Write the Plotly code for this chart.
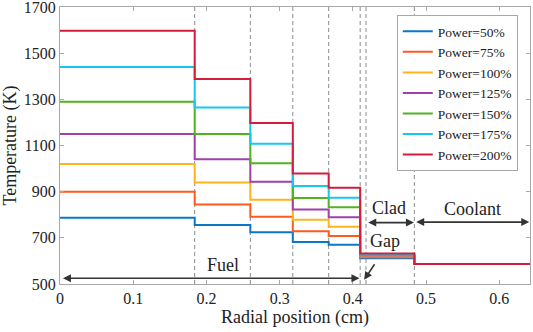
import plotly.graph_objects as go

# Region boundaries (cm): fuel rings, fuel/gap, gap/clad, clad/coolant
edges = [0, 0.184, 0.26, 0.318, 0.367, 0.41, 0.484, 0.642]
boundaries = [0.184, 0.26, 0.318, 0.367, 0.41, 0.418, 0.484]

labels = ["Power=50%", "Power=75%", "Power=100%", "Power=125%",
          "Power=150%", "Power=175%", "Power=200%"]
colors = ["#0A78C8", "#FF5A1E", "#FFB41E", "#A040A8", "#50B41E", "#14C8F0", "#D21E3C"]

# Temperatures (K) per region: 5 fuel rings, gap+clad, coolant
t50 = [787, 755, 724, 682, 670, 612, 587]
t75 = [900, 844, 791, 728, 708, 616, 587]
t100 = [1020, 940, 865, 778, 748, 620, 587]
t125 = [1150, 1040, 943, 823, 789, 623, 587]
t150 = [1290, 1150, 1023, 872, 832, 626, 587]
t175 = [1440, 1265, 1108, 924, 874, 629, 587]
t200 = [1597, 1388, 1198, 979, 917, 632, 587]
series = [t50, t75, t100, t125, t150, t175, t200]

x_ticks = [0, 0.1, 0.2, 0.3, 0.4, 0.5, 0.6]
x_tick_text = ["0", "0.1", "0.2", "0.3", "0.4", "0.5", "0.6"]
y_ticks = [500, 700, 900, 1100, 1300, 1500, 1700]

FONT = "Liberation Serif, DejaVu Serif, serif"
AX = "#A8A8A8"
TXT = "#222222"

fig = go.Figure()
for lab, col, vals in zip(labels, colors, series):
    fig.add_trace(go.Scatter(
        x=edges, y=vals + [vals[-1]], mode="lines", name=lab,
        line=dict(color=col, width=2, shape="hv"),
    ))

for b in boundaries:
    fig.add_shape(type="line", xref="x", yref="paper", x0=b, x1=b, y0=0, y1=1,
                  line=dict(color="#8C8C8C", width=1, dash="4px,3px"), layer="below")

arrow_col = "#333333"
def arrow(x0, y0, x1, y1, both=True):
    fig.add_annotation(x=x1, y=y1, ax=x0, ay=y0, xref="x", yref="y",
                       axref="x", ayref="y", text="", showarrow=True,
                       arrowhead=2, arrowsize=1, arrowwidth=1.6,
                       arrowcolor=arrow_col,
                       arrowside="end+start" if both else "end",
                       standoff=0, startstandoff=0)

arrow(0.002, 525, 0.409, 525)
arrow(0.431, 592, 0.4155, 518, both=False)
arrow(0.419, 766, 0.4835, 766)
arrow(0.4845, 768, 0.641, 768)

def label(x, y, t):
    fig.add_annotation(x=x, y=y, xref="x", yref="y", text=t, showarrow=False,
                       font=dict(family=FONT, size=18, color=TXT))

label(0.223, 583, "Fuel")
label(0.444, 687, "Gap")
label(0.450, 828, "Clad")
label(0.563, 823, "Coolant")

fig.update_layout(
    width=533, height=332,
    margin=dict(l=60, r=3, t=7, b=48, autoexpand=False),
    paper_bgcolor="white", plot_bgcolor="white",
    font=dict(family=FONT, size=16, color=TXT),
    showlegend=True,
    legend=dict(x=0.974, y=0.971, xanchor="right", yanchor="top",
                bgcolor="white", bordercolor=AX, borderwidth=1,
                font=dict(family=FONT, size=13.5, color=TXT),
                tracegroupgap=0, itemwidth=30),
)
fig.update_xaxes(range=[0, 0.642], tickvals=x_ticks, ticktext=x_tick_text,
                 showgrid=False, zeroline=False, showline=True, linecolor=AX,
                 linewidth=1, mirror="ticks", ticks="inside", ticklen=4,
                 tickcolor=AX, tickfont=dict(family=FONT, size=16, color=TXT),
                 automargin=False, ticklabeloverflow="allow",
                 title=dict(text="Radial position (cm)",
                            font=dict(family=FONT, size=18, color=TXT), standoff=2))
fig.update_yaxes(range=[499.9, 1700.1], tickvals=y_ticks,
                 showgrid=False, zeroline=False, showline=True, linecolor=AX,
                 linewidth=1, mirror="ticks", ticks="inside", ticklen=4,
                 tickcolor=AX, tickfont=dict(family=FONT, size=16, color=TXT),
                 automargin=False, ticklabeloverflow="allow",
                 title=dict(text="Temperature (K)",
                            font=dict(family=FONT, size=18, color=TXT), standoff=2))

fig.write_html("out.html", config={"displayModeBar": False},
               post_script="document.body.style.margin='0px';")
